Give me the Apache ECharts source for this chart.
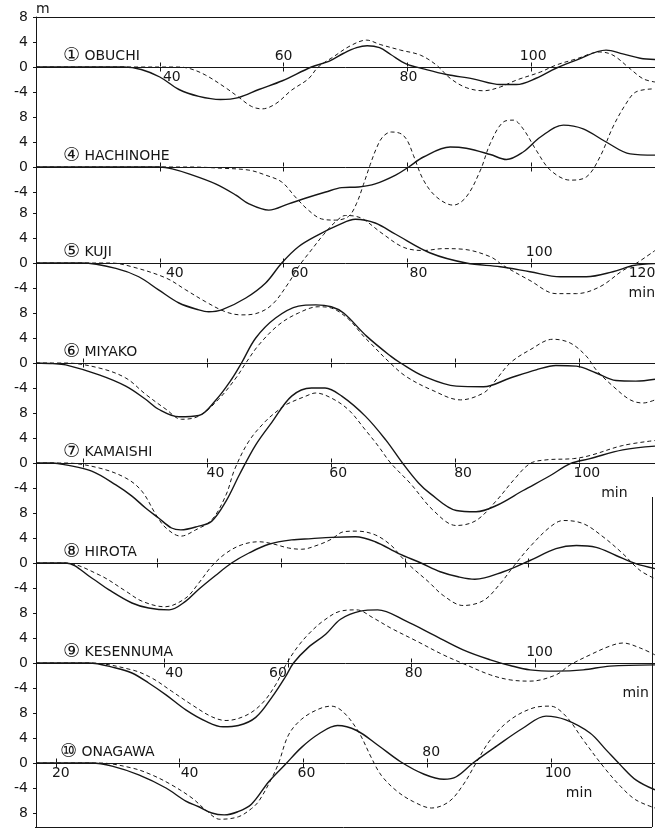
<!DOCTYPE html>
<html><head><meta charset="utf-8">
<script src="https://cdn.jsdelivr.net/npm/echarts@6/dist/echarts.min.js"></script>
<style>html,body{margin:0;padding:0;background:#fff}#c{width:655px;height:830px}</style>
</head><body><div id="c"></div>
<script>
// ---------------- DATA ----------------
const stationMarks = ['①','④','⑤','⑥','⑦','⑧','⑨','⑩'];
const stationNames = ['OBUCHI','HACHINOHE','KUJI','MIYAKO','KAMAISHI','HIROTA','KESENNUMA','ONAGAWA'];
// time (min) at the left edge of each panel; every panel spans 100 min
const timeStart = [20, 20, 20, 12.3, 12.3, 20.4, 19.3, 16.8];
const timeSpan = 100;
const timeTicks = [20, 40, 60, 80, 100, 120];
const labelsBelow = [[40,80],[],[40,60,80,120],[],[40,60,80,100],[],[40,60,80,120],[20,40,60,100]];
const labelsAbove = [[60,100],[],[100],[],[],[],[100],[80]];
const heightTicks = [8, 4, 0, -4];
const heightTickText = {'8':'8','4':'4','0':'0','-4':'-4','-8':'8'};

// observed (solid) and computed (dashed) waveforms: [min, m]
const obuchiObs = [[20,0],[30,0],[34.2,0],[37,-0.4],[40,-1.6],[43.1,-3.6],[46.3,-4.7],[49.8,-5.2],[52.7,-4.9],[56,-3.6],[59.8,-2.2],[64.5,0],[67.3,0.9],[69.7,2.2],[71.8,3.1],[73.5,3.4],[75.5,3.1],[77.3,2.0],[79.8,0.5],[82.6,-0.3],[86.3,-1.2],[90.6,-1.9],[95,-2.8],[97.6,-2.8],[100.8,-1.8],[104,-0.2],[107.3,1.1],[112.1,2.7],[114.8,2.1],[117.6,1.4],[120,1.2]];
const obuchiCalc = [[20,0],[43,0],[45,-0.3],[47.4,-1.3],[50.6,-3.3],[52.7,-4.8],[54.8,-6.3],[56.5,-6.7],[58.7,-5.9],[61.3,-3.7],[64,-1.9],[65.6,0],[68,1.6],[70.8,3.4],[73.4,4.3],[75.6,3.6],[78.9,2.7],[82.1,1.9],[84.7,0.3],[86.9,-1.8],[89.5,-3.3],[92.3,-3.8],[95,-3.2],[97.6,-2.1],[101.5,-0.8],[104,0.3],[107.3,1.3],[111.1,2.4],[113.2,1.9],[116,-0.3],[118.1,-1.9],[120,-2.4]];
const hachinoheObs = [[20,0],[40,0],[42,-0.3],[44.7,-1.1],[49,-2.7],[52.3,-4.5],[54.4,-5.9],[57.6,-6.9],[60.8,-5.9],[63.5,-5.0],[66.8,-4.0],[69.4,-3.3],[72.1,-3.2],[74.8,-2.7],[78.1,-1.3],[80.2,0],[82.6,1.6],[86.9,3.2],[89.5,3.0],[93.4,2.0],[96,1.2],[98.7,2.4],[101.5,4.8],[105.2,6.7],[108.4,6.1],[112.1,4.0],[116,2.1],[120,1.9]];
const hachinoheCalc = [[20,0],[45,0],[50,-0.2],[54.4,-0.5],[57.1,-1.3],[59.7,-2.4],[61.9,-4.8],[64,-6.9],[66.1,-8.3],[68.4,-8.5],[70.5,-7.9],[71.8,-5.8],[72.9,-2.8],[74,0.4],[75,3],[76,4.8],[77.4,5.6],[79,5.3],[80,4.2],[81,1.8],[82.6,-2.1],[84.7,-4.8],[87.4,-6.1],[89.5,-4.8],[91.8,-0.5],[93.4,3.8],[95.5,7.2],[97.1,7.5],[98.7,6.1],[100.8,2.7],[103.1,-0.5],[106.3,-2.1],[108.9,-1.6],[111.1,1.6],[113.2,6.4],[115.3,10.1],[116.9,12],[119.7,12.5]];
const kujiObs = [[20,0],[27.4,0],[32.9,-0.85],[36.6,-2.2],[39.8,-4.3],[43.1,-6.4],[46.3,-7.5],[47.9,-7.8],[50,-7.5],[53.9,-5.6],[57.1,-3.2],[59.7,0],[62.4,2.6],[65.6,4.5],[68.9,6.1],[71.6,7.0],[74.8,6.4],[78.1,4.6],[83.7,1.6],[89.5,0],[95,-0.6],[99.8,-1.4],[104.7,-2.2],[108.9,-2.2],[113.2,-1.4],[116.5,-0.4],[120,-0.1]];
const kujiCalc = [[20,0],[32,0],[35.5,-0.6],[41,-2.4],[44.2,-4.3],[47.4,-6.2],[50.6,-7.8],[53.2,-8.3],[55.5,-8.1],[58.1,-6.7],[60.8,-3.2],[62.4,-0.6],[64.5,2.1],[66.5,4.6],[68.4,6.6],[70,7.6],[71.5,7.5],[72.9,7.0],[76.1,4.6],[79.4,2.5],[82.6,2.0],[85.8,2.3],[89,2.2],[93.4,1.0],[95.5,-0.4],[99.8,-2.8],[104,-4.9],[107.3,-4.9],[111.1,-3.8],[114.8,-1.2],[116.9,-0.1],[120,2.0]];
const miyakoObs = [[12.3,0],[15,-0.1],[17.1,-0.3],[22.5,-1.9],[26.8,-3.7],[30,-5.8],[32.1,-7.4],[35.4,-8.6],[38.6,-8.4],[41.3,-6.0],[43.9,-2.6],[45.5,0],[47.8,4.0],[51,7.2],[54.7,9.1],[57.5,9.3],[60,9.0],[62,8.0],[65.7,4.3],[69.6,1.1],[71.2,0],[74.9,-2.1],[80.2,-3.7],[84.6,-3.8],[88.9,-2.4],[93.1,-1.1],[96.3,-0.4],[99.6,-0.5],[102.8,-1.6],[106,-2.8],[109.2,-2.9],[112.3,-2.6]];
const miyakoCalc = [[12.3,0],[17,0],[22.5,-0.8],[26.8,-2.4],[30,-5.0],[33.3,-7.4],[35.8,-9.0],[38.6,-8.5],[41.8,-5.8],[44.6,-2.4],[46.2,0],[48.3,2.9],[51.5,6.1],[54.7,8.0],[57.9,9.0],[60,8.8],[62.8,7.0],[65.2,4.3],[66.5,3.0],[69.2,0.3],[72,-2.1],[76.2,-4.3],[80.9,-5.9],[84.6,-4.8],[86.2,-3.2],[88.9,0],[92.1,2.1],[95.8,3.8],[98.6,3.2],[101.2,1.1],[102.8,-1.1],[105.5,-3.7],[108.3,-5.9],[110.4,-6.4],[112.3,-5.9]];
const kamaishiObs = [[12.3,0],[15,0],[17.1,-0.3],[21.3,-1.3],[25.2,-3.5],[27.8,-5.3],[30,-7.2],[32.1,-8.8],[34.2,-10.4],[35.7,-10.7],[38.6,-10.1],[40.7,-9.3],[43,-6.1],[45.2,-1.8],[47.8,2.9],[50.4,6.5],[53.6,10.7],[56.8,12.0],[59,12.0],[61.7,10.7],[65.5,7.5],[68.8,3.7],[71.5,0],[74.1,-3.2],[76,-4.9],[80.2,-7.6],[83.4,-7.8],[86.7,-6.8],[91,-4.4],[95.4,-2.0],[98.6,-0.1],[101.8,0.7],[107.1,2.1],[112.3,2.7]];
const kamaishiCalc = [[12.3,0],[17,0],[22.5,-0.8],[26.8,-2.4],[29.4,-4.5],[31.7,-8.3],[33.3,-10.4],[35.7,-11.7],[38.1,-10.7],[40.7,-9.1],[43,-5.1],[44.4,-1.0],[46.7,3.5],[49.4,6.7],[51.5,8.5],[52.6,9.3],[55.9,10.7],[57.5,11.2],[60,10.4],[62.8,8.5],[65.5,5.3],[67.6,2.7],[69.6,0],[72.8,-3.3],[76.5,-7.6],[80.2,-10.0],[83.4,-9.2],[86.7,-6.0],[89.4,-2.8],[92.1,-0.1],[94.7,0.5],[99.1,0.7],[101.8,1.2],[107.1,2.8],[112.3,3.6]];
const hirotaObs = [[20.4,0],[25.2,0],[29.4,-2.4],[32.2,-4.3],[35.9,-6.4],[38.6,-7.2],[41.9,-7.5],[44.6,-6.1],[46.7,-4.2],[49.4,-2.0],[52,0],[54.8,1.6],[58,3.0],[61.7,3.7],[64.9,3.9],[68.1,4.1],[72,4.2],[75.2,3.4],[79,1.5],[82.6,0],[85.7,-1.4],[88.6,-2.2],[91.3,-2.6],[95.9,-1.4],[100.2,0.4],[104.4,2.3],[107.7,2.8],[110.9,2.5],[114.1,1.2],[117.3,-0.1],[120.4,-0.9]];
const hirotaCalc = [[20.4,0],[25,0],[30.6,-1.9],[34.9,-4.5],[37.5,-6.1],[41.2,-7.0],[44.6,-5.6],[46.7,-3.2],[48.8,-0.5],[51,1.5],[53.6,2.9],[56.4,3.4],[58.5,3.1],[61.2,2.4],[63.3,2.2],[66,2.9],[68.1,3.8],[70.1,5.0],[72.2,5.1],[75.2,4.5],[77.8,2.8],[79.4,1.0],[81,-0.6],[83.8,-3.0],[86.2,-5.2],[89.4,-6.8],[92.7,-6.0],[95.4,-3.3],[97.5,-0.6],[100.2,2.6],[103.5,5.8],[105.6,6.8],[108.8,6.3],[112,4.2],[115.2,1.5],[118,-1.2],[120.4,-2.5]];
const kesennumaObs = [[19.3,0],[27.8,0],[32.2,-0.8],[34.8,-1.6],[37.5,-3.2],[40.3,-5.1],[43.5,-7.5],[46.7,-9.3],[49.5,-10.2],[52,-10.0],[54.8,-8.7],[57.4,-5.5],[59.6,-2.2],[60.9,0],[63.3,2.5],[66.1,4.6],[68.5,7.0],[71.7,8.3],[74.5,8.5],[79.1,6.7],[83.5,4.5],[88.3,2.1],[92.7,0.5],[95.9,-0.4],[99.1,-1.1],[103.3,-1.3],[107.7,-1.1],[112,-0.5],[119.3,-0.3]];
const kesennumaCalc = [[19.3,0],[28,0],[34.8,-1.1],[38,-2.4],[41.2,-4.5],[44.5,-6.7],[47.7,-8.6],[50,-9.2],[53.2,-8.4],[55.8,-6.5],[58,-3.5],[59.6,-0.4],[61.5,2.5],[63.5,4.8],[65.8,6.8],[68.5,8.3],[71.1,8.5],[73.8,7.2],[76.6,5.6],[80.8,3.5],[85.1,1.3],[88.8,-0.3],[92.7,-1.9],[95.9,-2.7],[99.1,-2.9],[103.3,-1.9],[105.6,-0.3],[108.8,1.3],[112,2.7],[114.1,3.2],[116.9,2.4],[119.3,1.3]];
const onagawaObs = [[16.8,0],[25.8,0],[29.1,-0.5],[33.4,-1.9],[37.8,-4.0],[41,-6.1],[43.1,-7.0],[45.2,-8.0],[47.2,-8.3],[49.4,-7.8],[51.6,-6.6],[54.4,-3.0],[57.1,-0.2],[59.7,2.5],[62.4,4.6],[65.5,6.0],[68.6,5.2],[72.1,2.8],[75.7,0.2],[79.5,-1.8],[82.7,-2.6],[84.7,-2.2],[87.4,0],[91.2,2.7],[95.5,5.6],[99.2,7.5],[102.4,6.9],[106.3,4.8],[108.9,2.1],[111.2,-0.3],[113.7,-2.7],[116.8,-4.3]];
const onagawaCalc = [[16.8,0],[27,0],[32.3,-0.8],[35.5,-1.9],[38.7,-3.5],[42,-5.6],[44.2,-7.5],[46.5,-9.0],[49.5,-8.6],[51.6,-7.3],[52.8,-6.1],[54.9,-2.4],[56,0],[57.6,4.5],[59.7,7.0],[62.4,8.6],[64.5,9.1],[66.4,8.2],[68.9,5.0],[71,0.8],[72.6,-2.0],[75.1,-4.5],[77.8,-6.2],[80.7,-7.2],[83.5,-6.2],[85.8,-3.5],[87.9,0],[90.2,3.7],[93.4,6.9],[97.1,8.8],[99.9,9.1],[102.4,7.5],[105.2,3.7],[108.4,-0.5],[111.2,-3.7],[113.7,-5.9],[116.8,-7.2]];

const observed = [obuchiObs, hachinoheObs, kujiObs, miyakoObs, kamaishiObs, hirotaObs, kesennumaObs, onagawaObs];
const computed = [obuchiCalc, hachinoheCalc, kujiCalc, miyakoCalc, kamaishiCalc, hirotaCalc, kesennumaCalc, onagawaCalc];

// ---------------- LAYOUT / STYLE ----------------
const INK = '#161616';
const FONT = '"DejaVu Sans", "Noto Sans CJK JP", sans-serif';
const BASE_Y = [67, 167, 263, 363, 463, 563, 663, 763];
const PX_PER_M = 6.25;
const FRAME_BOTTOM = 827;
const PLOT_LEFT = 36;
const labelShift = [{40:12,80:1,60:0,100:2},{},{40:15,60:16,80:11,100:8,120:-13},{},{40:8,60:7,80:8,100:8},{},{40:10,60:-10,80:2,100:4,120:-12},{20:5,40:10,60:3,80:4,100:7}];
const minNotes = [{panel:2,t:120,align:'right'},{panel:4,t:103.6,align:'left'},{panel:6,t:118.3,align:'right'},{panel:7,t:102.4,align:'left'}];
const MIN_NOTE_DY = 30;

function richFor(i, values) {
  const rich = {};
  values.forEach(v => {
    const dx = labelShift[i][v] || 0;
    rich['v' + v] = {fontSize: 14, fontFamily: FONT, color: INK,
      padding: dx >= 0 ? [0, 0, 0, 2 * dx] : [0, -2 * dx, 0, 0]};
  });
  return rich;
}
const n = stationNames.length;
function stripAxis(i, pos, labelVals) {
  const min = timeStart[i], max = min + timeSpan;
  const ticks = timeTicks.filter(t => t > min + 1 && t <= max + 0.01);
  return {
    type: 'value', gridIndex: n + i, position: pos, min: min, max: max,
    axisLine: {show: pos === 'bottom', onZero: false, lineStyle: {color: INK, width: 1}},
    axisTick: {show: true, customValues: ticks, length: 4, inside: false, lineStyle: {color: INK, width: 1}},
    axisLabel: {show: labelVals.length > 0, customValues: labelVals, margin: 3,
      formatter: v => '{v' + v + '|' + v + '}', rich: richFor(i, labelVals)},
    splitLine: {show: false}
  };
}

const grids = [], xAxes = [], yAxes = [], series = [], titles = [];
for (let i = 0; i < n; i++) {
  const isLast = i === n - 1;
  const yMin = isLast ? -(FRAME_BOTTOM - BASE_Y[i]) / PX_PER_M : -8;
  const top = BASE_Y[i] - 8 * PX_PER_M;
  const height = (8 - yMin) * PX_PER_M;
  grids.push({left: PLOT_LEFT, right: 0, top: top, height: height, show: false, containLabel: false, outerBoundsMode: 'none'});
  xAxes.push({type: 'value', gridIndex: i, min: timeStart[i], max: timeStart[i] + timeSpan, show: false,
    axisLine: {show: false, onZero: false}, axisTick: {show: false}, axisLabel: {show: false}, splitLine: {show: false}});
  const yLabels = isLast ? heightTicks.concat([-8]) : heightTicks;
  yAxes.push({
    type: 'value', gridIndex: i, min: yMin, max: 8, position: 'left',
    axisLine: {show: true, onZero: false, lineStyle: {color: INK, width: 1}},
    axisTick: {show: true, customValues: yLabels, length: 3, lineStyle: {color: INK}},
    axisLabel: {show: true, customValues: yLabels, margin: 8, fontSize: 14, fontFamily: FONT, color: INK,
      align: 'right', formatter: v => heightTickText[String(v)]},
    splitLine: {show: false},
    name: i === 0 ? 'm' : '', nameLocation: 'end', nameGap: 1,
    nameTextStyle: {align: 'left', verticalAlign: 'bottom', fontSize: 14, fontFamily: FONT, color: INK}
  });
  series.push({type: 'line', name: stationNames[i] + ' observed', xAxisIndex: i, yAxisIndex: i,
    data: observed[i], showSymbol: false, symbol: 'none', smooth: 0.35, clip: false, silent: true,
    lineStyle: {color: INK, width: 1.4, type: 'solid'}, z: 3});
  series.push({type: 'line', name: stationNames[i] + ' computed', xAxisIndex: i, yAxisIndex: i,
    data: computed[i], showSymbol: false, symbol: 'none', smooth: 0.35, clip: false, silent: true,
    lineStyle: {color: INK, width: 1, type: [4, 3]}, z: 3});
  titles.push({
    text: '{c|' + stationMarks[i] + '}{n| ' + stationNames[i] + '}',
    left: i === n - 1 ? 60 : 63, top: BASE_Y[i] - 20, padding: 0,
    textStyle: {fontWeight: 'normal', rich: {
      c: {fontSize: 19, fontFamily: FONT, color: INK, fontWeight: 'normal'},
      n: {fontSize: 14, fontFamily: FONT, color: INK, fontWeight: 'normal'}
    }}
  });
}
for (let i = 0; i < n; i++) {
  grids.push({left: PLOT_LEFT, right: 0, top: BASE_Y[i] - 0.5, height: 1, show: false, containLabel: false, outerBoundsMode: 'none'});
  xAxes.push(stripAxis(i, 'bottom', labelsBelow[i]));
  xAxes.push(stripAxis(i, 'top', labelsAbove[i]));
  yAxes.push({type: 'value', gridIndex: n + i, min: 0, max: 1, show: false,
    axisLine: {show: false}, axisTick: {show: false}, axisLabel: {show: false}, splitLine: {show: false}});
}

const chart = echarts.init(document.getElementById('c'), null, {renderer: 'canvas'});
chart.setOption({
  backgroundColor: '#ffffff',
  animation: false,
  title: titles,
  grid: grids,
  xAxis: xAxes,
  yAxis: yAxes,
  series: series
});

const graphics = [
  {type: 'line', shape: {x1: 35, y1: 17.5, x2: 655, y2: 17.5}, style: {stroke: INK, lineWidth: 1}},
  {type: 'line', shape: {x1: 35, y1: FRAME_BOTTOM + 0.5, x2: 652, y2: FRAME_BOTTOM + 0.5}, style: {stroke: INK, lineWidth: 1}},
  {type: 'line', shape: {x1: 652.5, y1: 497, x2: 652.5, y2: FRAME_BOTTOM}, style: {stroke: INK, lineWidth: 1}}
];
minNotes.forEach(m => {
  const p = chart.convertToPixel({xAxisIndex: m.panel, yAxisIndex: m.panel}, [m.t, 0]);
  graphics.push({type: 'text', x: p[0], y: p[1] + MIN_NOTE_DY,
    style: {text: 'min', fontSize: 14, fontFamily: FONT, fill: INK, align: m.align, verticalAlign: 'middle'}});
});
chart.setOption({graphic: graphics});
</script>
</body></html>
